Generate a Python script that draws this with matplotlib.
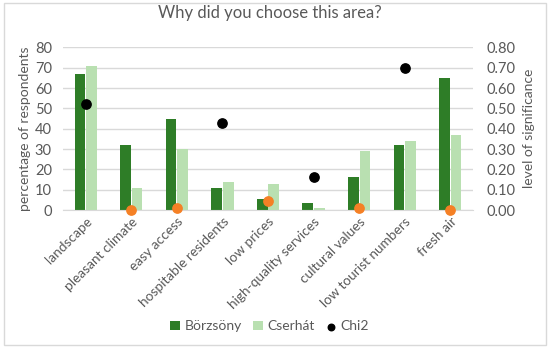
import matplotlib.pyplot as plt
import numpy as np

categories = ["landscape", "pleasant climate", "easy access", "hospitable residents",
              "low prices", "high-quality services", "cultural values",
              "low tourist numbers", "fresh air"]
borzsony = [67, 32, 45, 11, 5.5, 3.5, 16, 32, 65]
cserhat = [71, 11, 30, 14, 13, 1, 29, 34, 37]
chi2 = [0.52, 0.00, 0.01, 0.43, 0.045, 0.16, 0.01, 0.70, 0.00]

DARK = "#2e7d27"
LIGHT = "#b9e0b1"
ORANGE = "#f58025"
TEXT = "#595959"
GRID = "#d9d9d9"

plt.rcParams["font.family"] = ["Lato", "DejaVu Sans"]

fig = plt.figure(figsize=(5.5, 3.51), dpi=100)
ax = fig.add_axes([0.1145, 0.4017, 0.7455, 0.4633])
ax2 = ax.twinx()

x = np.arange(len(categories))
w = 0.235
ax.bar(x - w / 2 - 0.01, borzsony, w, color=DARK, label="Börzsöny", zorder=2)
ax.bar(x + w / 2 + 0.01, cserhat, w, color=LIGHT, label="Cserhát", zorder=2)

chi2 = np.array(chi2)
sig = chi2 < 0.05
ax2.scatter(x[~sig], chi2[~sig], s=45, color="black", label="Chi2", zorder=3, clip_on=False)
ax2.scatter(x[sig], chi2[sig], s=45, color=ORANGE, zorder=3, clip_on=False)

ax.set_xlim(-0.5, len(categories) - 0.5)
ax.set_ylim(0, 80)
ax.set_yticks(range(0, 81, 10))
ax2.set_ylim(0, 0.8)
ax2.set_yticks(np.arange(0, 0.81, 0.1))
ax2.set_yticklabels([f"{v:.2f}" for v in np.arange(0, 0.81, 0.1)])

ax.set_xticks(x)
ax.set_xticklabels(categories, rotation=45, ha="right", rotation_mode="anchor")
ax.grid(axis="y", color=GRID, linewidth=1, zorder=0)
ax.set_axisbelow(True)

for a in (ax, ax2):
    for s in a.spines.values():
        s.set_visible(False)
    a.tick_params(length=0, colors=TEXT, labelsize=10.5)
ax.tick_params(axis="x", labelsize=9.8, pad=4)
ax.spines["bottom"].set_visible(True)
ax.spines["bottom"].set_color(GRID)
ax.tick_params(axis="y", pad=8)
ax2.tick_params(axis="y", pad=10)

ax.set_ylabel("percentage of respondents", color=TEXT, fontsize=10, labelpad=3)
ax2.set_ylabel("level of significance", color=TEXT, fontsize=10, labelpad=5)

fig.suptitle("Why did you choose this area?", x=0.49, y=0.985, color=TEXT, fontsize=12)

h1, l1 = ax.get_legend_handles_labels()
h2, l2 = ax2.get_legend_handles_labels()
fig.legend(h1 + h2, l1 + l2, loc="center", bbox_to_anchor=(0.49, 0.07), ncol=3,
           frameon=False, fontsize=10, labelcolor=TEXT, handlelength=0.7,
           handleheight=0.7, handletextpad=0.35, columnspacing=0.8, markerscale=0.7)

fig.patches.append(plt.Rectangle((0.008, 0.017), 0.984, 0.975, transform=fig.transFigure,
                                 fill=False, edgecolor="#d9d9d9", linewidth=1))

fig.savefig("out.png", dpi=100)
